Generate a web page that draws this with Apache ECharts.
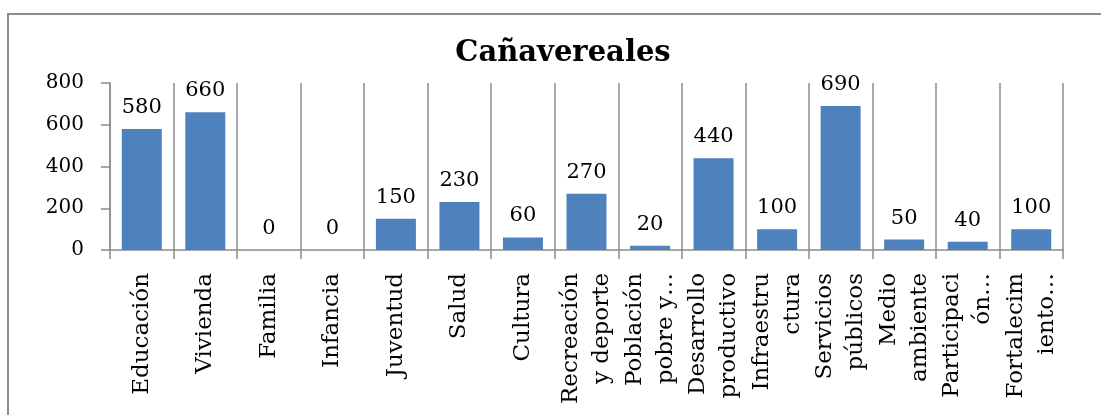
<!DOCTYPE html>
<html>
<head>
<meta charset="utf-8">
<script src="https://cdn.jsdelivr.net/npm/echarts@6/dist/echarts.min.js"></script>
<style>
  html, body { margin: 0; padding: 0; background: #fff; }
  #chart { width: 1101px; height: 415px; }
</style>
</head>
<body>
<div id="chart"></div>
<script>
// Sectores y número de respuestas
var categories = [
  'Educación', 'Vivienda', 'Familia', 'Infancia', 'Juventud', 'Salud', 'Cultura',
  'Recreación\ny deporte', 'Población\npobre y…', 'Desarrollo\nproductivo',
  'Infraestru\nctura', 'Servicios\npúblicos', 'Medio\nambiente',
  'Participaci\nón…', 'Fortalecim\niento…'
];
var values = [580, 660, 0, 0, 150, 230, 60, 270, 20, 440, 100, 690, 50, 40, 100];
var yTicks = { min: 0, max: 800, interval: 200 };
var titleText = 'Cañavereales';

var serif = 'DejaVu Serif';
var gray = '#8c8c8c';

var chart = echarts.init(document.getElementById('chart'), null, { renderer: 'canvas' });
chart.setOption({
  backgroundColor: '#ffffff',
  animation: false,
  title: {
    text: titleText,
    left: 558,
    top: 34,
    textAlign: 'center',
    textStyle: { fontFamily: serif, fontWeight: 'bold', fontSize: 29, color: '#000' }
  },
  graphic: [{
    type: 'rect',
    shape: { x: 8, y: 14, width: 1200, height: 500 },
    style: { fill: 'none', stroke: gray, lineWidth: 2 },
    silent: true
  }],
  grid: { left: 110, right: 38, top: 83, bottom: 165, containLabel: false },
  xAxis: {
    type: 'category',
    data: categories,
    boundaryGap: true,
    axisLine: { lineStyle: { color: gray, width: 1.5 } },
    axisTick: { show: true, length: 9, alignWithLabel: false, lineStyle: { color: gray, width: 1.5 } },
    splitLine: { show: true, lineStyle: { color: gray, width: 1.5 } },
    axisLabel: {
      rotate: 90,
      interval: 0,
      margin: 23,
      fontFamily: serif,
      fontSize: 23,
      lineHeight: 31,
      color: '#000'
    }
  },
  yAxis: {
    type: 'value',
    min: yTicks.min,
    max: yTicks.max,
    interval: yTicks.interval,
    axisLine: { show: true, lineStyle: { color: gray, width: 1.5 } },
    axisTick: { show: true, length: 9, lineStyle: { color: gray, width: 1.5 } },
    splitLine: { show: false },
    axisLabel: { margin: 26, fontFamily: serif, fontSize: 20, color: '#000' }
  },
  series: [{
    type: 'bar',
    data: values,
    barWidth: 40,
    itemStyle: { color: '#4f81bd' },
    label: {
      show: true,
      position: 'top',
      distance: 11,
      fontFamily: serif,
      fontSize: 21,
      color: '#000'
    }
  }]
});
</script>
</body>
</html>
